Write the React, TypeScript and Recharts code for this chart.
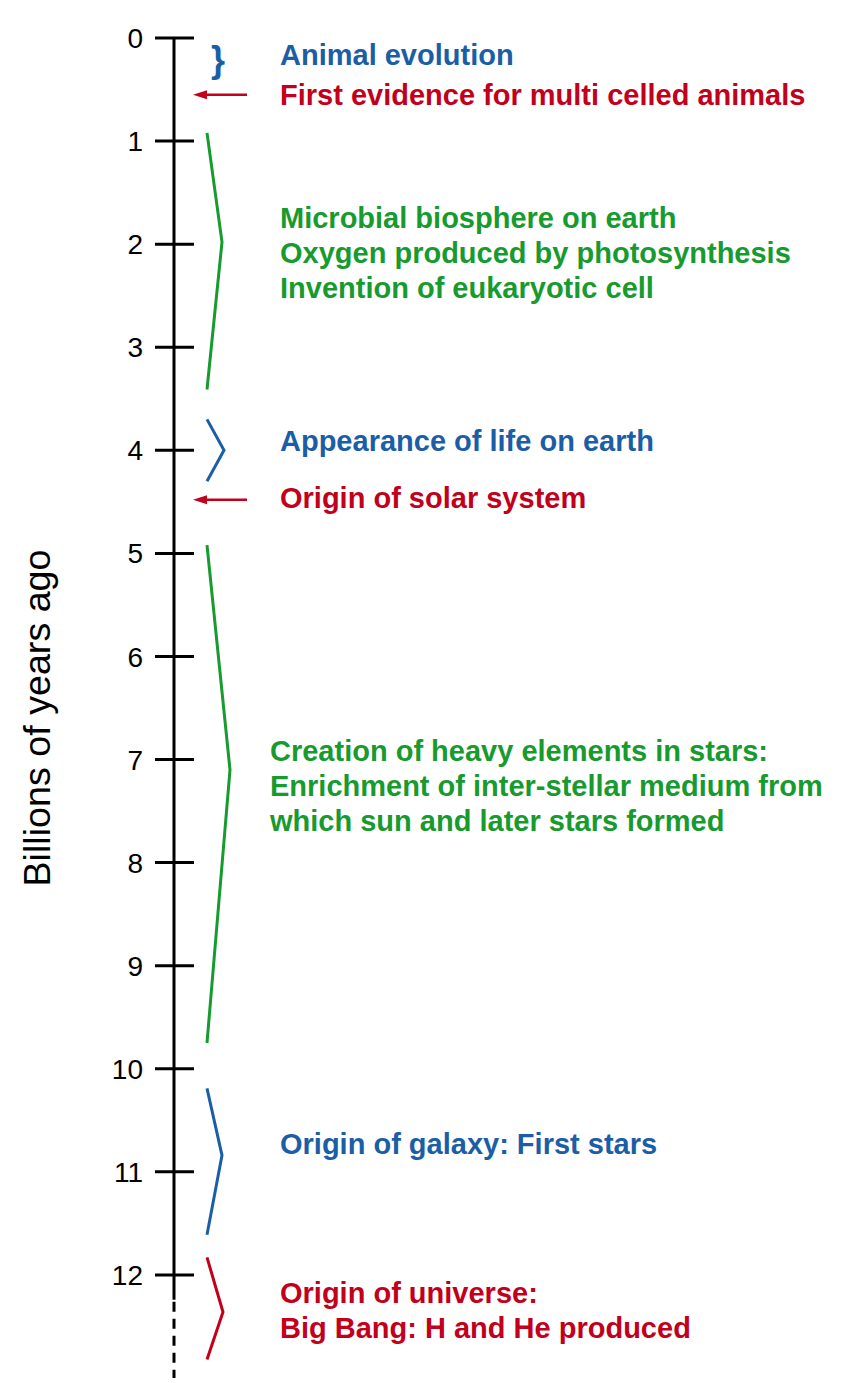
import React from "react"
import { ComposedChart, XAxis, YAxis, Scatter, ReferenceLine, Label } from "recharts"

// time axis, billions of years ago
const yearTicks = [0, 1, 2, 3, 4, 5, 6, 7, 8, 9, 10, 11, 12]
const solidAxisEnd = 12.24
const axisEnd = 13

// bracket spans (start, apex, end) in billions of years ago
const bracketFrom = [0.92, 3.7, 4.92, 10.19, 11.83]
const bracketPeak = [1.98, 4.0, 7.1, 10.84, 12.36]
const bracketTo = [3.41, 4.3, 9.75, 11.61, 12.82]
const bracketTone = ["green", "blue", "green", "blue", "red"]

// single-moment events marked by an arrow
const arrowAt = [0.55, 4.48]

// short curly brace for animal evolution
const braceAt = 0.24

const labelLines = [
  ["Animal evolution"],
  ["First evidence for multi celled animals"],
  ["Microbial biosphere on earth", "Oxygen produced by photosynthesis", "Invention of eukaryotic cell"],
  ["Appearance of life on earth"],
  ["Origin of solar system"],
  ["Creation of heavy elements in stars:", "Enrichment of inter-stellar medium from", "which sun and later stars formed"],
  ["Origin of galaxy: First stars"],
  ["Origin of universe:", "Big Bang: H and He produced"],
]
const labelAt = [0.16, 0.55, 2.08, 3.91, 4.46, 7.25, 10.73, 12.34]
const labelTone = ["blue", "red", "green", "blue", "red", "green", "blue", "red"]

// styles
const palette: Record<string, string> = {
  blue: "#1b5ea6",
  red: "#c2001c",
  green: "#179a2e",
}
const WIDTH = 845
const HEIGHT = 1383
const AXIS_X = 174
const FONT = "'Liberation Sans', Arial, Helvetica, sans-serif"
const LABEL_SIZE = 29
const LINE_GAP = 35
const bracketDepth = [15, 17, 23, 15, 16]
const labelIndent = [106, 106, 106, 106, 106, 96, 106, 106]

const YearTick = (props: any) => {
  const { x, y, payload } = props
  return (
    <g>
      <line x1={x - 19} x2={x + 20} y1={y} y2={y} stroke="#000" strokeWidth={3} />
      <text
        x={x - 31}
        y={y}
        dy="0.36em"
        textAnchor="end"
        fontSize={28}
        fontFamily={FONT}
        fill="#000"
      >
        {payload.value}
      </text>
    </g>
  )
}

const AxisTitle = () => (
  <text
    x={50}
    y={718}
    transform="rotate(-90, 50, 718)"
    textAnchor="middle"
    fontSize={36}
    fontFamily={FONT}
    fill="#000"
    textLength={337}
    lengthAdjust="spacingAndGlyphs"
  >
    Billions of years ago
  </text>
)

const NoDot = () => <g />

const Annotation = (props: any) => {
  const { cx, cy, payload } = props
  const lines: string[] = payload.lines
  return (
    <g>
      {lines.map((line, i) => (
        <text
          key={i}
          x={cx}
          y={cy + (i - (lines.length - 1) / 2) * LINE_GAP}
          dy="0.36em"
          fontSize={LABEL_SIZE}
          fontWeight={700}
          fontFamily={FONT}
          fill={palette[payload.tone]}
        >
          {line}
        </text>
      ))}
    </g>
  )
}

const Arrow = (props: any) => {
  const { cx, cy } = props
  return (
    <g>
      <line x1={cx + 10} x2={cx + 54} y1={cy} y2={cy} stroke={palette.red} strokeWidth={2.5} />
      <polygon
        points={`${cx},${cy} ${cx + 14},${cy - 4.5} ${cx + 14},${cy + 4.5}`}
        fill={palette.red}
      />
    </g>
  )
}

const Brace = (props: any) => {
  const { cx, cy } = props
  return (
    <text
      x={cx}
      y={cy + 9}
      textAnchor="middle"
      fontSize={36}
      fontWeight={700}
      fontFamily={FONT}
      fill={palette.blue}
    >
      {"}"}
    </text>
  )
}

export default function App() {
  const brackets = bracketFrom.map((from, i) => [
    { x: 33, y: from },
    { x: 33 + bracketDepth[i], y: bracketPeak[i] },
    { x: 33, y: bracketTo[i] },
  ])
  const annotations = labelLines.map((lines, i) => ({
    x: labelIndent[i],
    y: labelAt[i],
    lines,
    tone: labelTone[i],
  }))
  const arrows = arrowAt.map((y) => ({ x: 19, y }))

  return (
    <div style={{ position: "absolute", left: 0, top: 0, width: WIDTH, height: HEIGHT, background: "#fff" }}>
      <ComposedChart
        width={WIDTH}
        height={HEIGHT}
        margin={{ top: 38, right: 0, bottom: 5, left: 0 }}
      >
        <XAxis type="number" dataKey="x" domain={[0, WIDTH - AXIS_X]} hide />
        <YAxis
          type="number"
          dataKey="y"
          domain={[0, axisEnd]}
          reversed
          ticks={yearTicks}
          interval={0}
          width={AXIS_X}
          axisLine={false}
          tickLine={false}
          tickSize={0}
          tickMargin={0}
          tick={<YearTick />}
        >
          <Label content={<AxisTitle />} />
        </YAxis>
        <ReferenceLine
          segment={[{ x: 0, y: 0 }, { x: 0, y: solidAxisEnd }]}
          stroke="#000"
          strokeWidth={3}
        />
        <ReferenceLine
          segment={[{ x: 0, y: solidAxisEnd + 0.02 }, { x: 0, y: axisEnd }]}
          stroke="#000"
          strokeWidth={3}
          strokeDasharray="10 7"
        />
        {brackets.map((pts, i) => (
          <Scatter
            key={i}
            data={pts}
            line={{ stroke: palette[bracketTone[i]], strokeWidth: 3 }}
            shape={<NoDot />}
            isAnimationActive={false}
          />
        ))}
        <Scatter data={arrows} shape={<Arrow />} isAnimationActive={false} />
        <Scatter data={[{ x: 44, y: braceAt }]} shape={<Brace />} isAnimationActive={false} />
        <Scatter data={annotations} shape={<Annotation />} isAnimationActive={false} />
      </ComposedChart>
    </div>
  )
}
